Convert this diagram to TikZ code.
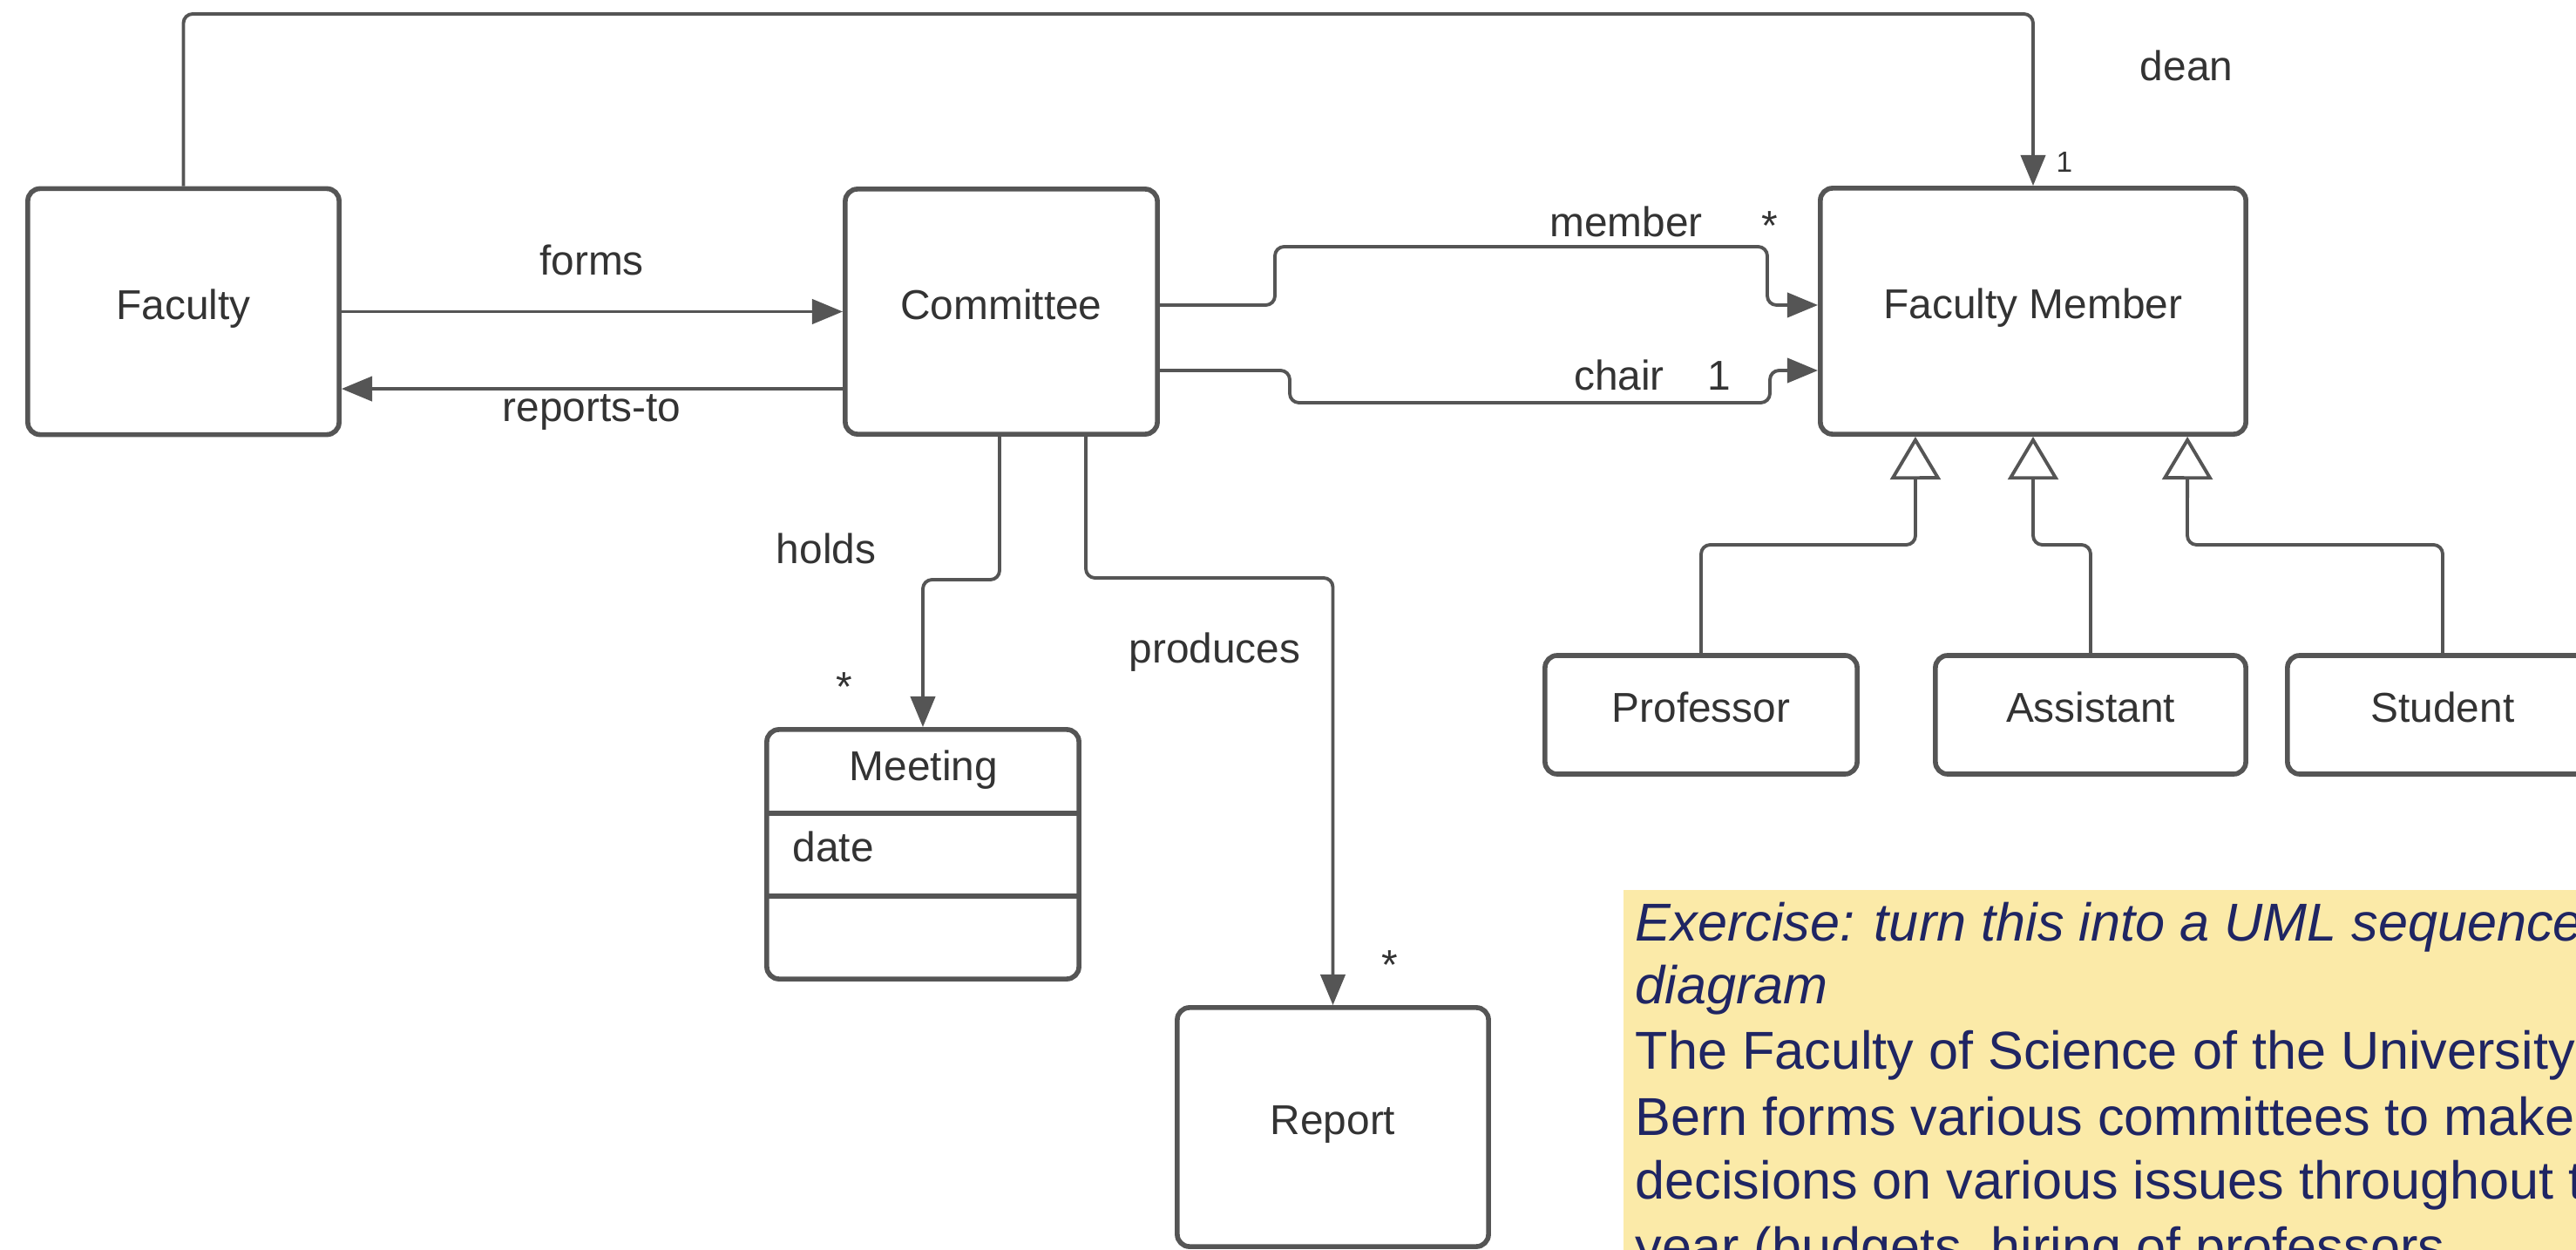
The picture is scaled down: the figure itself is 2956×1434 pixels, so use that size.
\documentclass[tikz,border=0pt]{standalone}
\usepackage{fontspec}
\setmainfont{Liberation Sans}
\usetikzlibrary{arrows.meta}
\definecolor{ln}{HTML}{555555}
\definecolor{txt}{HTML}{333333}
\definecolor{notebg}{HTML}{FBEAA8}
\definecolor{notetxt}{HTML}{1F2563}
\begin{document}
\begin{tikzpicture}[x=0.01cm,y=-0.01cm,
  box/.style={draw=ln, line width=1.6pt, rounded corners=4pt, fill=white, inner sep=0pt,
    font=\fontsize{13.6}{16}\selectfont, text=txt, text height=9.7pt, text depth=4.6pt},
  conn/.style={draw=ln, line width=1.1pt, rounded corners=3pt},
  arr/.style={conn, -{Triangle[length=10pt,width=8pt]}},
  gen/.style={conn, -{Triangle[open,length=14pt,width=16.4pt,fill=white]}},
  lbl/.style={anchor=base, inner sep=0pt, text=txt, font=\fontsize{13.6}{16}\selectfont},
  small/.style={anchor=base, inner sep=0pt, text=txt, font=\fontsize{9.5}{11}\selectfont},
  notel/.style={anchor=base west, inner sep=0pt, text=notetxt, font=\fontsize{17.4}{21}\selectfont}
]
\useasboundingbox (0,0) rectangle (2956,1434);
\clip (0,0) rectangle (2956,1434);
\fill[white] (0,0) rectangle (2956,1434);

% classes
\node[box, minimum width=3.57cm, minimum height=2.82cm] (fac) at (210.5,357.5) {Faculty};
\node[box, minimum width=3.58cm, minimum height=2.81cm] (com) at (1149,357.5) {Committee};
\node[box, minimum width=4.88cm, minimum height=2.82cm] (fm) at (2333,357) {Faculty Member};
\node[box, minimum width=3.58cm, minimum height=1.36cm] (prof) at (1952,820) {Professor};
\node[box, minimum width=3.56cm, minimum height=1.36cm] (asst) at (2399,820) {Assistant};
\node[box, minimum width=3.56cm, minimum height=1.36cm] (stud) at (2803,820) {Student};
\node[box, minimum width=3.58cm, minimum height=2.86cm] (meet) at (1059,980) {};
\node[box, minimum width=3.57cm, minimum height=2.74cm] (rep) at (1529.5,1293) {Report};

% Meeting compartments
\draw[draw=ln, line width=1.6pt] ([yshift=0.47cm]meet.west) -- ([yshift=0.47cm]meet.east);
\draw[draw=ln, line width=1.6pt] ([yshift=-0.48cm]meet.west) -- ([yshift=-0.48cm]meet.east);
\node[lbl] (meetname) at (1060,896) {Meeting};
\node[lbl, anchor=base west] (meetattr) at (909,989) {date};

% associations
\draw[arr] (fac.north) -- (210.5,16) -- (2333,16) -- (fm.north);
\draw[arr] (fac.east) -- (com.west);
\draw[arr] ([yshift=-0.885cm]com.west) -- ([yshift=-0.885cm]fac.east);
\draw[arr] ([yshift=0.075cm]com.east) -- (1463,350) -- (1463,283) -- (2028,283) -- (2028,350) -- ([yshift=0.07cm]fm.west);
\draw[arr] ([yshift=-0.675cm]com.east) -- (1480,425) -- (1480,462) -- (2031,462) -- (2031,425) -- ([yshift=-0.68cm]fm.west);
\draw[arr] ([xshift=-0.02cm]com.south) -- (1147,665) -- (1059,665) -- (meet.north);
\draw[arr] ([xshift=0.97cm]com.south) -- (1246,663) -- (1529.5,663) -- (rep.north);

% generalizations
\draw[gen] (prof.north) -- (1952,625) -- (2198,625) -- ([xshift=-1.35cm]fm.south);
\draw[gen] (asst.north) -- (2399,625) -- (2333,625) -- (fm.south);
\draw[gen] (stud.north) -- (2803,625) -- (2510,625) -- ([xshift=1.77cm]fm.south);

% labels
\node[lbl] (lforms) at (679,316) {forms};
\node[lbl] (lrep) at (679,484) {reports-to};
\node[lbl] (lmember) at (1866,272) {member};
\node[lbl] (lmemm) at (2031,276) {*};
\node[lbl] (lchair) at (1858,448) {chair};
\node[lbl] (lchairm) at (1973,448) {1};
\node[lbl] (ldean) at (2509,93) {dean};
\node[small] (ldeanm) at (2369,198) {1};
\node[lbl] (lholds) at (948,647) {holds};
\node[lbl] (lholdsm) at (969,805) {*};
\node[lbl] (lprod) at (1394,761) {produces};
\node[lbl] (lprodm) at (1595,1124) {*};

% note
\fill[notebg] (1863,1021) rectangle (2956,1434);
\node[notel, font=\fontsize{17.4}{21}\selectfont\itshape] (n1) at (1876,1080) {Exercise: turn this into a UML sequence};
\node[notel, font=\fontsize{17.4}{21}\selectfont\itshape] (n2) at (1876,1152) {diagram};
\node[notel] (n3) at (1876,1227) {The Faculty of Science of the University};
\node[notel] (n4) at (1876,1302) {Bern forms various committees to make};
\node[notel] (n5) at (1876,1376) {decisions on various issues throughout the};
\node[notel] (n6) at (1876,1451) {year (budgets, hiring of professors,};
\end{tikzpicture}
\end{document}
